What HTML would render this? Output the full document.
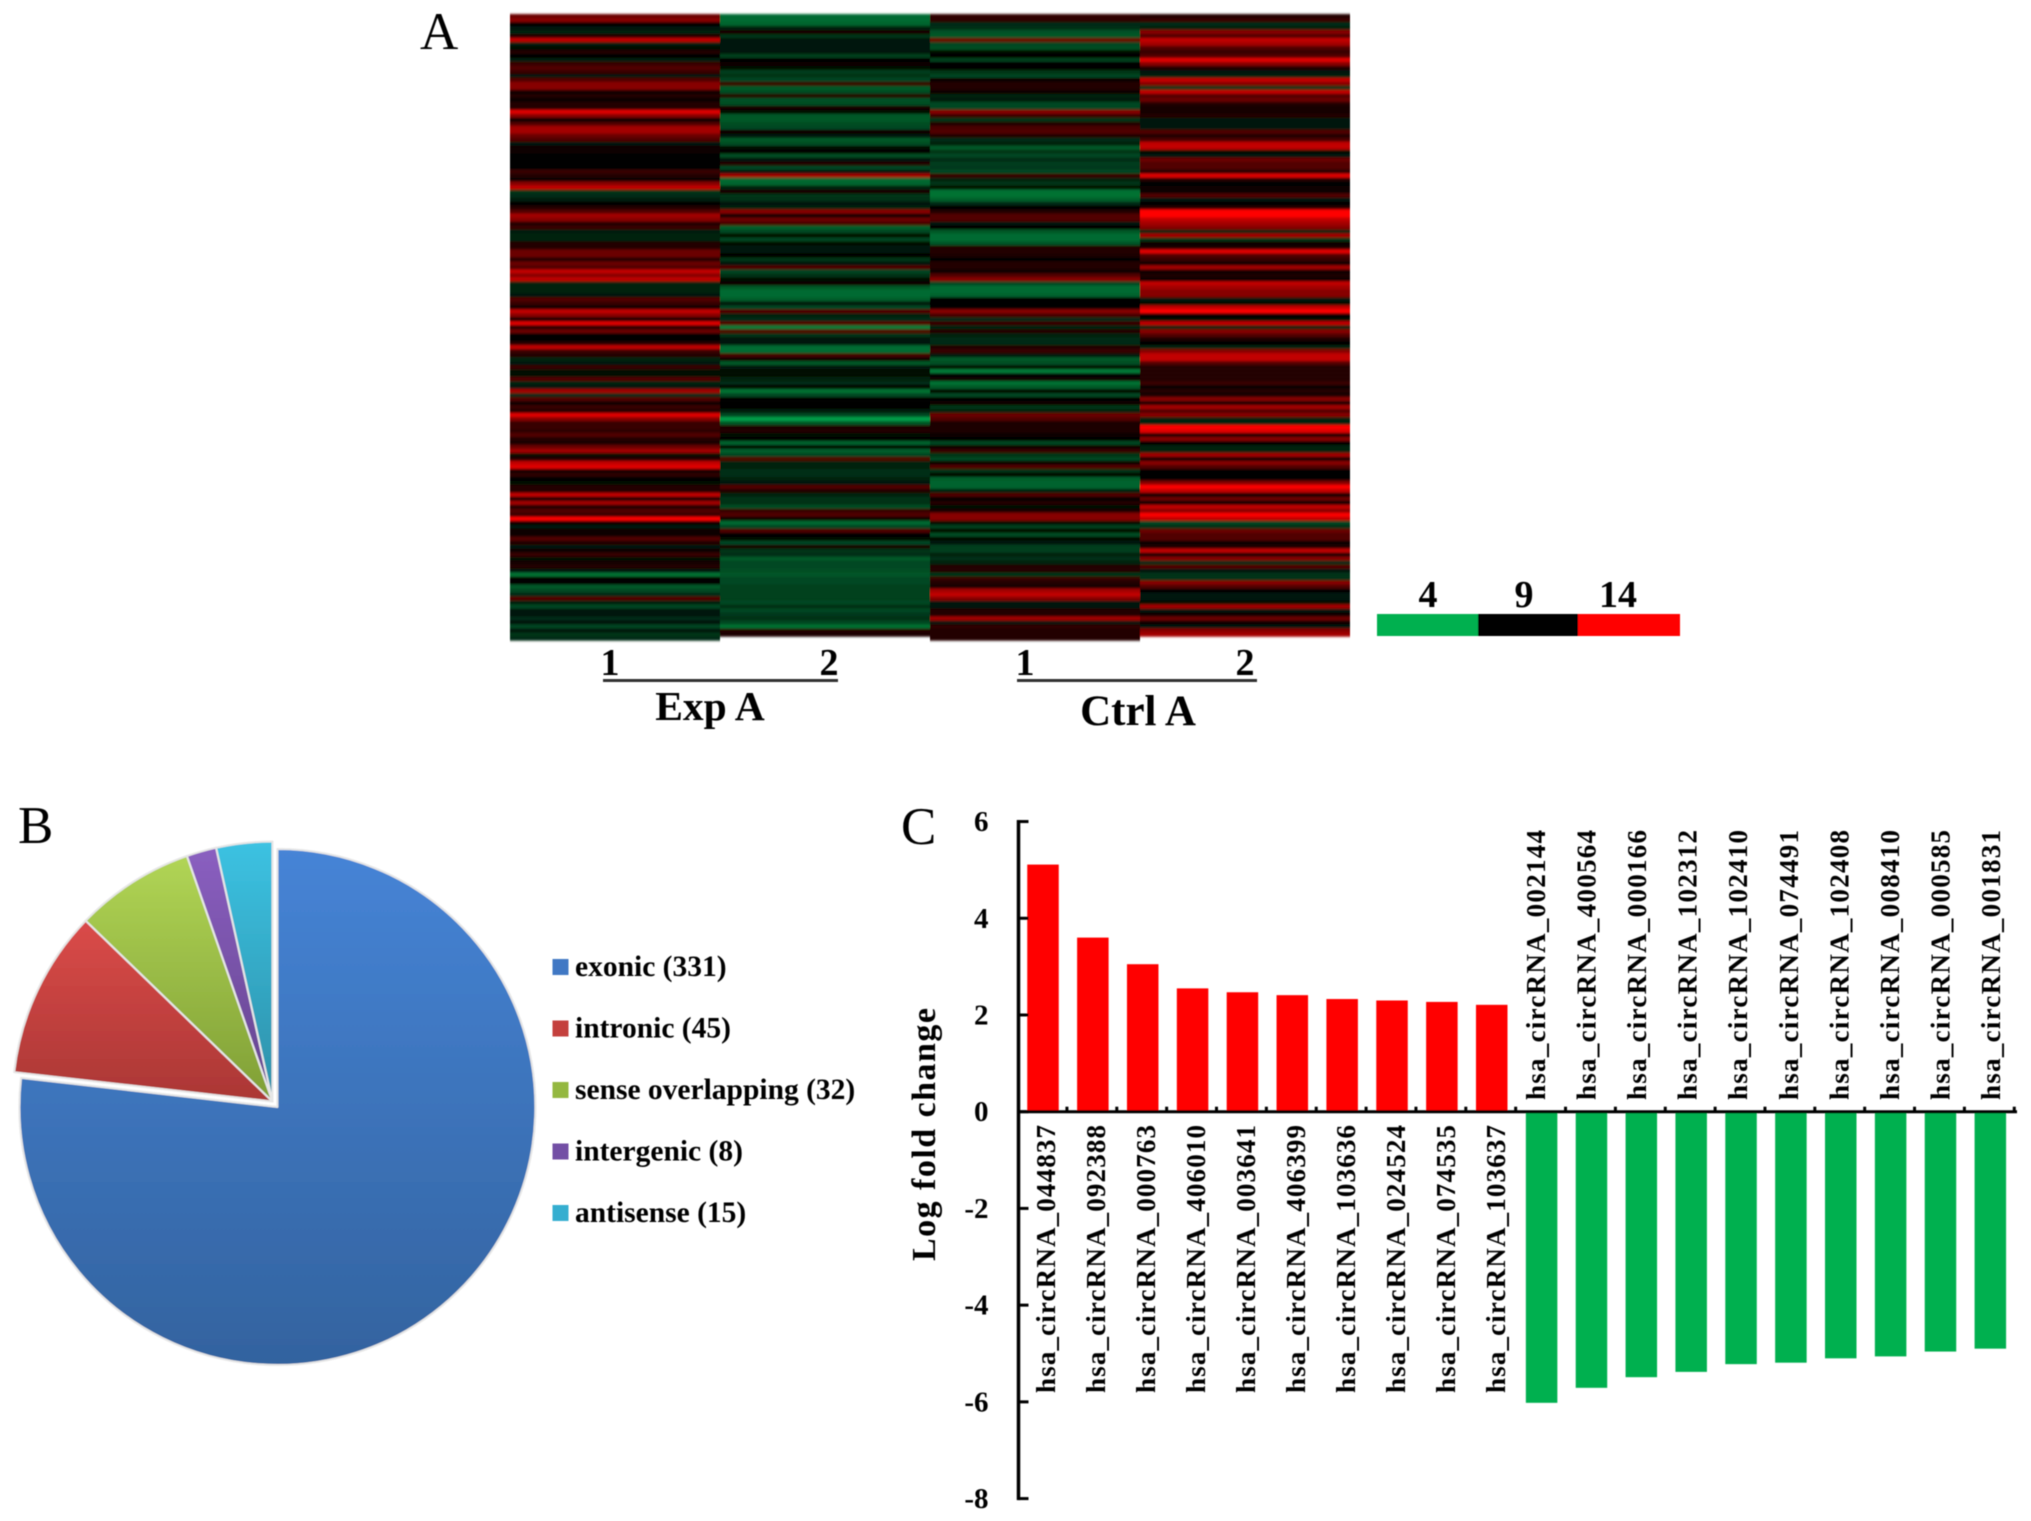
<!DOCTYPE html>
<html lang="en">
<head>
<meta charset="utf-8">
<title>circRNA expression figure</title>
<style>
html,body{margin:0;padding:0;background:#fff;}
svg{display:block;}
text{font-family:"Liberation Serif",serif;fill:#000;}
</style>
</head>
<body>
<svg id="figure" xmlns="http://www.w3.org/2000/svg" width="2031" height="1521" viewBox="0 0 2031 1521">
  <defs>
    <filter id="soft" x="-2%" y="-2%" width="104%" height="104%"><feGaussianBlur stdDeviation="0.55"/></filter>
    <filter id="softRows" x="0" y="-1%" width="100%" height="102%"><feGaussianBlur stdDeviation="0 1.1"/></filter>
    <linearGradient id="grad-exonic" gradientUnits="userSpaceOnUse" x1="0" y1="850" x2="0" y2="1366"><stop offset="0" stop-color="#4684d6"/><stop offset="1" stop-color="#33639f"/></linearGradient>
    <linearGradient id="grad-intronic" gradientUnits="userSpaceOnUse" x1="0" y1="930" x2="0" y2="1110"><stop offset="0" stop-color="#d84a48"/><stop offset="1" stop-color="#a83634"/></linearGradient>
    <linearGradient id="grad-sense" gradientUnits="userSpaceOnUse" x1="0" y1="860" x2="0" y2="1105"><stop offset="0" stop-color="#b0d455"/><stop offset="1" stop-color="#7f9e35"/></linearGradient>
    <linearGradient id="grad-intergenic" gradientUnits="userSpaceOnUse" x1="0" y1="850" x2="0" y2="1105"><stop offset="0" stop-color="#8a5fc0"/><stop offset="1" stop-color="#63448c"/></linearGradient>
    <linearGradient id="grad-antisense" gradientUnits="userSpaceOnUse" x1="0" y1="842" x2="0" y2="1105"><stop offset="0" stop-color="#3cc2e2"/><stop offset="1" stop-color="#2d8fa8"/></linearGradient>
  </defs>
  <g id="root" filter="url(#soft)">
    <text x="420" y="49" font-size="53">A</text>
    <text x="18" y="843" font-size="53">B</text>
    <text x="901" y="844" font-size="53">C</text>

    <g id="heatmap" filter="url(#softRows)"></g>

    <text x="610" y="675" font-size="38" font-weight="bold" text-anchor="middle">1</text>
    <text x="829" y="675" font-size="38" font-weight="bold" text-anchor="middle">2</text>
    <text x="1025" y="675" font-size="38" font-weight="bold" text-anchor="middle">1</text>
    <text x="1245" y="675" font-size="38" font-weight="bold" text-anchor="middle">2</text>
    <rect x="603" y="679" width="235" height="3" fill="#333"/>
    <rect x="1017" y="679" width="240" height="3" fill="#333"/>
    <text x="710" y="720" font-size="41.5" font-weight="bold" text-anchor="middle">Exp A</text>
    <text x="1138" y="725" font-size="43" font-weight="bold" text-anchor="middle">Ctrl A</text>

    <g>
      <rect x="1377" y="614" width="101" height="22" fill="#00b050"/>
      <rect x="1478" y="614" width="100" height="22" fill="#000"/>
      <rect x="1578" y="614" width="102" height="22" fill="#ff0000"/>
      <text x="1428" y="607" font-size="38" font-weight="bold" text-anchor="middle">4</text>
      <text x="1524" y="607" font-size="38" font-weight="bold" text-anchor="middle">9</text>
      <text x="1618" y="607" font-size="38" font-weight="bold" text-anchor="middle">14</text>
    </g>

    <g id="pie"></g>
    <g id="legend"></g>
    <g id="bars"></g>
  </g>
</svg>
<script>
// ---------- Panel A heatmap data (expression value per row, scale 4..14) ----------
const expSample1 = [
11.5,12,9,8.5,8,10,13,8.2,8.8,10,9.2,8.2,10.5,11,10.5,8.5,11,12,12,9.5,10,9.3,10,10,13.5,12,9.2,11,12.5,12.5,11.5,11,8.5,9.5,9.3,8.9,8.9,8.9,8.9,
10.5,10,9.2,12,13,7.5,7.8,8.2,9,10,11,12.5,12,10,10.5,8.2,8,8,10,10,11.5,11.5,10,11.5,11,13,12,13,8,8,8,8.3,11,10.5,9.5,13,12,9,13.5,10,
11.5,9.2,9.2,10,13,10.5,10,8,8.3,10.5,8.6,8.8,11,8,8.5,12.5,7.8,11,9.3,10.5,10,13.5,12,10.5,10.5,10.3,11,10,9.8,11.5,12.5,8.8,10,13,13.5,9.3,10.3,9,8.6,10,
10,13,9.5,12.5,9.8,11,10.5,14,9.5,8.5,9.5,9.5,11,10,8.5,9.5,10.5,8.8,9.6,10,8.5,5.8,9,9,6.5,7,7.8,11,8,7,8.4,8.3,7.8,8.5,7,8.3,7.5,7.8
];
const expSample2 = [
6,6,6.2,8,9.6,7.5,8.3,8.3,8.3,8.4,7.2,8.9,9.5,8.7,7.3,7.5,7,10.5,6.5,6.8,10,6.7,6.8,9.6,8.8,6.5,6.5,6.8,7,9.5,8.5,6.5,6.8,8.6,9,6.8,8.5,10,7,
8.3,12.5,6,6.2,8,9.7,7.5,7.6,8.4,8,12,9.2,11.5,10.8,6.3,7,8.8,7,8.7,8.4,8.5,9.2,7.5,8.4,11,7,7.6,8.6,9.4,6.5,6,6,6.3,8.5,7,11,8,7.8,11,
5.5,11,7.5,8.3,8.5,6,6,10.8,9.5,6.5,8.3,8.6,8.6,8,7.8,9,5.8,7,9,9,9,8.2,7,4.5,6.5,9.8,10,8.6,9,6.2,9,6.3,7,11,8,8,7.7,7.7,8,8.3,
11,10,8,7.6,7.6,6.8,10.5,11,9.5,6,7,11,9,8.7,7,9.6,7.5,7.7,6.5,7,7,6.8,6.6,7,7,7.2,7.2,7.2,7.2,7,7.6,7,7.4,7.6,7,5.8,10,9.8,null
];
const ctrlSample1 = [
10.3,10.3,7.8,7.7,6.7,6.5,11.5,7,6.8,8.8,8.9,7.2,9,9,7.5,7,9.3,10,10,9.5,8,8.2,7,7,12,10.5,7.5,10,10.8,11,10,7.8,8,6.5,7.5,7,7.8,7.3,7.4,
7,10.5,8,7.5,8.8,5.8,5.8,6.3,7.8,9,10,11,11,8.4,9,6.5,6,6,6.6,10,10,9.8,9,10,10,9.5,11,12,7,6,6,6.2,9,8.9,9,12,10.8,7.8,10.5,8,
10,8,7.8,7.8,10,10.5,8.5,6.5,6.8,8.8,5.5,9,9.5,5.8,6.5,9,7,9,9.3,7.5,8,11.5,11,9.8,9.8,9.8,9.5,9.2,7,9.5,10.5,7.5,7,9.4,11,7.5,9,6.3,6.2,6.2,
8,11,9,10,8.8,9.8,12,12,8.6,7.2,8.8,6.8,8.8,8.3,7.3,7.3,8,7.7,8,10,10,7.5,10.5,10,9.6,12.5,13,12,8.3,8.5,10,10,12.5,8.5,10.3,10,10,10
];
const ctrlSample2 = [
10,10.5,7.8,8,12,11,13,12.5,11,10.5,11,13.5,12,10,8.5,8,13,12,7.5,13,11,11.5,10,9.6,9.6,10,8.5,8.3,8.5,11,10,10.8,13,13,8.6,8.4,11.5,11,11,
10,13.5,10,9,9.3,9.5,11,8.3,9,10,14,14,13,12.5,12,8,12.5,7.5,9.5,9.7,13.5,11,10.5,9.5,12.5,9.5,9.8,9.4,13,12.5,12,12,8.3,8.6,13,14,9.2,8.8,13,8,
12,11,9.8,9,8,12,13,13,11,10,10,10,10,10.5,9.5,10,9.7,12,9.5,12.5,11,12,8,8,14,13.5,9.5,12,9,8,8,12.5,9.5,12,11,9,9,9,12,14,
13,9,11.5,9,13,12,14,13,7,7.6,11.5,11,11,9.5,9.8,13,9.5,12,7.8,11,8.3,7.6,7.6,12,11,8.9,8.5,8.5,8.8,12.5,8.5,9.5,11.5,9.4,8.5,12,12.5,null
];
const heatmapColumns = [expSample1, expSample2, ctrlSample1, ctrlSample2];
const heatmapColumnNames = ['exp-1', 'exp-2', 'ctrl-1', 'ctrl-2'];

// ---------- Panel B pie data ----------
const pieCategories = ['exonic', 'intronic', 'sense overlapping', 'intergenic', 'antisense'];
const pieValues = [331, 45, 32, 8, 15];
const pieKeys = ['exonic', 'intronic', 'sense', 'intergenic', 'antisense'];
const legendColors = ['#3f78c4', '#c43f3d', '#94b83f', '#7350a5', '#35aed0'];

// ---------- Panel C bar data ----------
const upLabels = ['hsa_circRNA_044837','hsa_circRNA_092388','hsa_circRNA_000763','hsa_circRNA_406010','hsa_circRNA_003641','hsa_circRNA_406399','hsa_circRNA_103636','hsa_circRNA_024524','hsa_circRNA_074535','hsa_circRNA_103637'];
const upValues = [5.11, 3.60, 3.05, 2.55, 2.47, 2.41, 2.33, 2.30, 2.27, 2.21];
const downLabels = ['hsa_circRNA_002144','hsa_circRNA_400564','hsa_circRNA_000166','hsa_circRNA_102312','hsa_circRNA_102410','hsa_circRNA_074491','hsa_circRNA_102408','hsa_circRNA_008410','hsa_circRNA_000585','hsa_circRNA_001831'];
const downValues = [-6.02, -5.71, -5.49, -5.38, -5.22, -5.19, -5.10, -5.06, -4.96, -4.90];
const yTicks = [6, 4, 2, 0, -2, -4, -6, -8];

const NS = 'http://www.w3.org/2000/svg';
function make(tag, parent, attrs, txt) {
  const el = document.createElementNS(NS, tag);
  for (const k in attrs) el.setAttribute(k, attrs[k]);
  if (txt !== undefined) el.textContent = txt;
  parent.appendChild(el);
  return el;
}

// ---------- Heatmap ----------
const hmLeft = 510, hmColWidth = 210, hmTop = 14, hmRowHeight = 3.99;
function colX(c) { return hmLeft + c * hmColWidth; }
function rowY(r) { return hmTop + r * hmRowHeight; }
function heatColor(v) {
  if (v >= 9) return 'rgb(' + Math.round(255 * Math.pow(Math.min(1, (v - 9) / 5), 1.25)) + ',0,0)';
  const t = Math.min(1, (9 - v) / 5);
  return 'rgb(0,' + Math.round(176 * t) + ',' + Math.round(80 * t) + ')';
}
const hmGroup = document.getElementById('heatmap');
heatmapColumns.forEach(function (col, c) {
  const colGroup = make('g', hmGroup, {});
  
  
  col.forEach(function (v, r) {
    if (v === null) return;
    const cell = make('rect', colGroup, { x: colX(c), y: rowY(r), width: hmColWidth, height: hmRowHeight + 0.3, fill: heatColor(v) });
    
    
  });
});

// ---------- Pie ----------
const pieGroup = document.getElementById('pie');
const pieTotal = pieValues.reduce(function (a, b) { return a + b; }, 0);
function arcPath(cx, cy, r, a0, a1) {
  const x0 = cx + r * Math.sin(a0), y0 = cy - r * Math.cos(a0);
  const x1 = cx + r * Math.sin(a1), y1 = cy - r * Math.cos(a1);
  const large = (a1 - a0) > Math.PI ? 1 : 0;
  return 'M' + cx + ' ' + cy + 'L' + x0 + ' ' + y0 + 'A' + r + ' ' + r + ' 0 ' + large + ' 1 ' + x1 + ' ' + y1 + 'Z';
}
let pieAngle = 0;
pieValues.forEach(function (v, i) {
  const a1 = pieAngle + v / pieTotal * Math.PI * 2;
  const isMain = i === 0;
  const d = arcPath(isMain ? 277.4 : 272.5, isMain ? 1107 : 1101.5, isMain ? 258 : 260, pieAngle, a1);
  const slice = make('path', pieGroup, { d: d, fill: 'url(#grad-' + pieKeys[i] + ')', stroke: '#e6e6e6', 'stroke-width': 2, 'stroke-linejoin': 'round' });
  
  
  pieAngle = a1;
});

// ---------- Legend ----------
const legendGroup = document.getElementById('legend');
pieCategories.forEach(function (name, i) {
  const y = 967 + i * 61.5;
  const entry = make('g', legendGroup, {});
  
  
  const swatch = make('rect', entry, { x: 552.5, y: y - 8, width: 16, height: 16, fill: legendColors[i] });
  
  
  const label = make('text', entry, { x: 575, y: y + 9, 'font-size': 29.5, 'font-weight': 'bold' }, name + ' (' + pieValues[i] + ')');
  
  
});

// ---------- Bars ----------
const barsGroup = document.getElementById('bars');
const zeroY = 1111.7, unitY = 48.36, firstBarCenter = 1043, barStep = 49.86, barWidth = 31.5, axisX = 1018.5;
function yScale(v) { return zeroY - v * unitY; }
function xScale(i) { return firstBarCenter + i * barStep; }

const allValues = upValues.concat(downValues);
allValues.forEach(function (v, i) {
  const top = Math.min(yScale(v), zeroY), h = Math.abs(yScale(v) - zeroY);
  const bar = make('rect', barsGroup, { x: xScale(i) - barWidth / 2, y: top, width: barWidth, height: h, fill: v >= 0 ? '#ff0000' : '#00b050' });
  
  
});

const yAxis = make('line', barsGroup, { x1: axisX, x2: axisX, y1: yScale(6) - 1.5, y2: yScale(-8) + 1.5, stroke: '#000', 'stroke-width': 3.5 });


const xAxis = make('line', barsGroup, { x1: axisX, x2: 2017, y1: zeroY, y2: zeroY, stroke: '#000', 'stroke-width': 3 });



allValues.forEach(function (v, i) {
  const cx = xScale(i) + barStep / 2 - 1;
  const t = make('line', barsGroup, { x1: cx, x2: cx, y1: zeroY - 5, y2: zeroY, stroke: '#000', 'stroke-width': 3 });
  
  
});

yTicks.forEach(function (v) {
  const y = yScale(v);
  const t = make('line', barsGroup, { x1: axisX, x2: axisX + 10, y1: y, y2: y, stroke: '#000', 'stroke-width': 3 });
  
  
  const lab = make('text', barsGroup, { x: 988.5, y: y + 9.5, 'font-size': 29, 'font-weight': 'bold', 'text-anchor': 'end' }, String(v));
  
  
});

function upLabelX(i) { return 1055 + i * 50; }
function downLabelX(i) { return 1545 + i * 50.55; }
upLabels.forEach(function (s, i) {
  const x = upLabelX(i), y = 1393;
  const lab = make('text', barsGroup, { x: x, y: y, 'font-size': 27, 'font-weight': 'bold', textLength: 268, lengthAdjust: 'spacing', transform: 'rotate(-90 ' + x + ' ' + y + ')' }, s);
  
  
});
downLabels.forEach(function (s, i) {
  const x = downLabelX(i), y = 1100;
  const lab = make('text', barsGroup, { x: x, y: y, 'font-size': 27, 'font-weight': 'bold', textLength: 270, lengthAdjust: 'spacing', transform: 'rotate(-90 ' + x + ' ' + y + ')' }, s);
  
  
});

const yTitle = make('text', barsGroup, { x: 935, y: 1261, 'font-size': 34, 'font-weight': 'bold', textLength: 253, lengthAdjust: 'spacing', transform: 'rotate(-90 935 1261)' }, 'Log fold change');


</script>
</body>
</html>
